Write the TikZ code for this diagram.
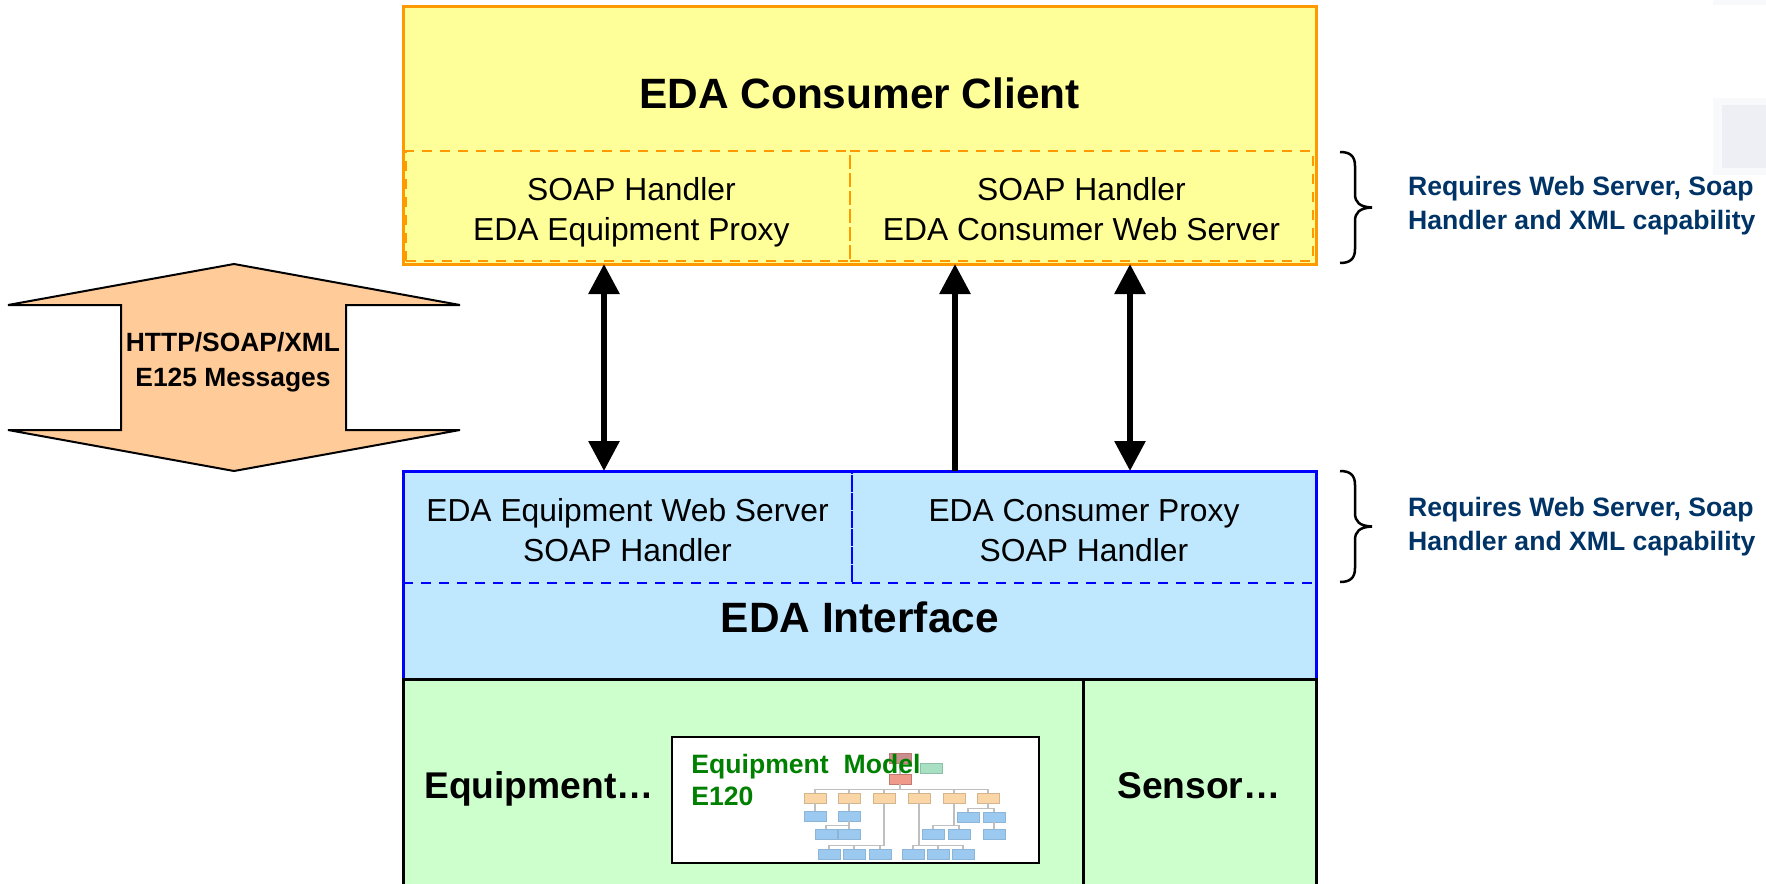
\documentclass[tikz,border=0pt]{standalone}
\usepackage{fontspec}
\setmainfont{Liberation Sans}
\usepackage{xcolor}
\usetikzlibrary{arrows.meta,positioning,calc}

\definecolor{clientfill}{HTML}{FFFF99}
\definecolor{clientline}{HTML}{FF9900}
\definecolor{edafill}{HTML}{BFE8FF}
\definecolor{edaline}{HTML}{0000FF}
\definecolor{equipfill}{HTML}{CCFFCC}
\definecolor{msgfill}{HTML}{FFCC99}
\definecolor{notecolor}{HTML}{003366}
\definecolor{modelgreen}{HTML}{008000}
\definecolor{miniredc}{HTML}{F09A8C}
\definecolor{minigrey}{HTML}{C98F8F}
\definecolor{miniorangec}{HTML}{FAD5A6}
\definecolor{minibluec}{HTML}{9CC9EF}
\definecolor{minitealc}{HTML}{A8E0C4}
\definecolor{ghostout}{HTML}{F8F9FB}
\definecolor{ghostin}{HTML}{EDEFF5}

% first and last line struts, so both handler texts sit alike
\newcommand{\firstline}{\rule{0pt}{18.2pt}}
\newcommand{\lastline}{\rule[-4pt]{0pt}{4pt}}

\begin{document}
\begin{tikzpicture}[
    x=0.5pt, y=-0.5pt,
    frame/.style={rectangle, draw, outer sep=0pt, inner sep=0pt, line width=1.5pt},
    clientframe/.style={frame, draw=clientline, fill=clientfill, minimum width=456.5pt, minimum height=128.5pt},
    edaframe/.style={frame, draw=edaline, fill=edafill, minimum width=456.5pt, minimum height=104pt},
    equipbox/.style={frame, draw=black, fill=equipfill, minimum height=110pt},
    handler/.style={rectangle, draw, dashed, dash pattern=on 5pt off 4pt, line width=1.2pt, outer sep=0pt, inner sep=0pt, align=center, font=\fontsize{15.9}{19.8}\selectfont},
    title/.style={font=\bfseries\fontsize{21.2}{25}\selectfont, align=center, outer sep=0pt},
    label/.style={font=\bfseries\fontsize{18.6}{22}\selectfont, text height=13.5pt, text depth=0pt},
    note/.style={font=\bfseries\fontsize{13.3}{16.9}\selectfont, text=notecolor, align=left, anchor=west},
    msgtext/.style={font=\bfseries\fontsize{13.2}{17.5}\selectfont, align=center},
    link/.style={line width=3pt, {Triangle[length=15pt,width=15pt]}-{Triangle[length=15pt,width=15pt]}},
    uplink/.style={line width=3pt, -{Triangle[length=15pt,width=15pt]}},
    curly/.style={line width=1.25pt},
    mini/.style={rectangle, draw, line width=0.3pt, minimum width=11pt, minimum height=5pt, inner sep=0pt},
    minired/.style={mini, fill=miniredc, draw=miniredc!80!black},
    miniorange/.style={mini, fill=miniorangec, draw=miniorangec!85!black},
    miniblue/.style={mini, fill=minibluec, draw=minibluec!90!black},
    miniteal/.style={mini, fill=minitealc, draw=minitealc!85!black},
    branch/.style={draw=black!25, line width=0.7pt},
    ghostbox/.style={rectangle, inner sep=0pt, anchor=north west}
]
\clip (0,0) rectangle (1766,883);

% Faint leftovers top right
\node[ghostbox, fill=ghostout, minimum width=26.5pt, minimum height=2.5pt] (ghosttop) at (1713,0) {};
\node[ghostbox, fill=ghostout, minimum width=26.5pt, minimum height=38.5pt] (ghost) at (1713,98) {};
\node[ghostbox, fill=ghostin, minimum width=22pt, minimum height=31.5pt] (ghostinner) at (1722,105) {};

% Client block
\node[clientframe] (client) at (859.5,135.5) {};
\node[title, minimum height=86pt, below=0pt of client.north] (clienttitle) {EDA Consumer Client};
\node[handler, draw=clientline, minimum width=222pt, minimum height=55pt, above right=1.5pt and 1.5pt of client.south west] (proxy) {\hspace*{3.4pt}\firstline SOAP Handler\\\hspace*{3.4pt}EDA Equipment Proxy\lastline};
\node[handler, draw=clientline, minimum width=231.5pt, minimum height=55pt, right=0pt of proxy] (webserver) {\firstline SOAP Handler\\EDA Consumer Web Server\lastline};

% EDA block
\node[edaframe] (eda) at (859.5,575) {};
\node[handler, draw=edaline, minimum width=224.5pt, minimum height=56pt, below right=0pt and 0pt of eda.north west] (equipweb) {\firstline EDA Equipment Web Server\\SOAP Handler\lastline};
\node[handler, draw=edaline, minimum width=232pt, minimum height=56pt, right=0pt of equipweb] (consproxy) {\firstline EDA Consumer Proxy\\SOAP Handler\lastline};
\node[title, below=6pt of equipweb.south east, xshift=3.9pt] (edatitle) {EDA Interface};
\draw[edaline, line width=1.5pt] (eda.north west) rectangle (eda.south east);

% Equipment row
\node[equipbox, minimum width=340pt, below right=0pt and 0pt of eda.south west] (equip) {};
\node[equipbox, minimum width=116.5pt, right=0pt of equip] (sensor) {};
\node[label] (equiplabel) at (539,785) {Equipment…};
\node[label] (sensorlabel) at (1199,785) {Sensor…};

% Model picture
\node[rectangle, draw, fill=white, line width=1pt, minimum width=183.5pt, minimum height=63pt, inner sep=0pt, anchor=north west] (model) at (671,736) {};
\node[minired, fill=minigrey] (m0) at (900,758) {};
\node[miniteal] (m1) at (931,768) {};
\node[minired] (m2) at (900,779) {};
\foreach \i/\px in {1/815,2/849,3/884,4/919,5/954,6/988}
    \node[miniorange] (o\i) at (\px,798) {};
\foreach \i/\px/\py in {1/815/816,2/849/816,3/826/834,4/849/834,5/829/854,6/854/854,7/880/854,8/913/854,9/938/854,10/963/854,11/933/834,12/959/834,13/968/817,14/994/817,15/994/834}
    \node[miniblue] (b\i) at (\px,\py) {};
\foreach \p/\c in {m0/m2,m2/o1,m2/o2,m2/o3,m2/o4,m2/o5,m2/o6,o1/b1,o2/b2,b2/b3,b2/b4,o3/b5,o3/b6,o3/b7,o4/b8,o4/b9,o4/b10,o5/b11,o5/b12,o6/b13,o6/b14,b14/b15}
    \draw[branch] (\p.south) |- ($(\c.north)+(0,-3)$) -| (\c.north);
\node[font=\bfseries\fontsize{13.3}{16}\selectfont, text=modelgreen, align=left, anchor=north west, inner sep=0pt] (modeltext) at (691,754) {Equipment\ \ Model\\E120};

% Messages arrow
\draw[fill=msgfill, line width=1pt] (234,264) -- (460,305) -- (346,305) -- (346,430) -- (460,430) -- (234,471) -- (8,430) -- (121,430) -- (121,305) -- (8,305) -- cycle;
\node[msgtext] (msgs) at (233,362) {HTTP/SOAP/XML\\E125 Messages};

% Arrows
\coordinate (lane1) at (604,0);
\coordinate (lane2) at (955,0);
\coordinate (lane3) at (1130,0);
\draw[link] (proxy.south -| lane1) ++(0,3) -- (equipweb.north -| lane1);
\draw[uplink] (consproxy.north -| lane2) -- ($(webserver.south -| lane2)+(0,3)$);
\draw[link] (webserver.south -| lane3) ++(0,3) -- (consproxy.north -| lane3);

% Braces
\foreach \top in {152,471} {
    \draw[curly] (1340,\top) .. controls (1350,\top) and (1355,{\top+4}) .. (1355,{\top+14})
        -- (1355,{\top+42}) .. controls (1355,{\top+50}) and (1359,{\top+55}) .. (1372,{\top+55.5})
        .. controls (1359,{\top+56}) and (1355,{\top+61}) .. (1355,{\top+69})
        -- (1355,{\top+97}) .. controls (1355,{\top+107}) and (1350,{\top+111}) .. (1340,{\top+111});
}
\node[note] (note1) at (1401,206) {Requires Web Server, Soap\\Handler and XML capability};
\node[note] (note2) at (1401,527) {Requires Web Server, Soap\\Handler and XML capability};

\end{tikzpicture}
\end{document}
